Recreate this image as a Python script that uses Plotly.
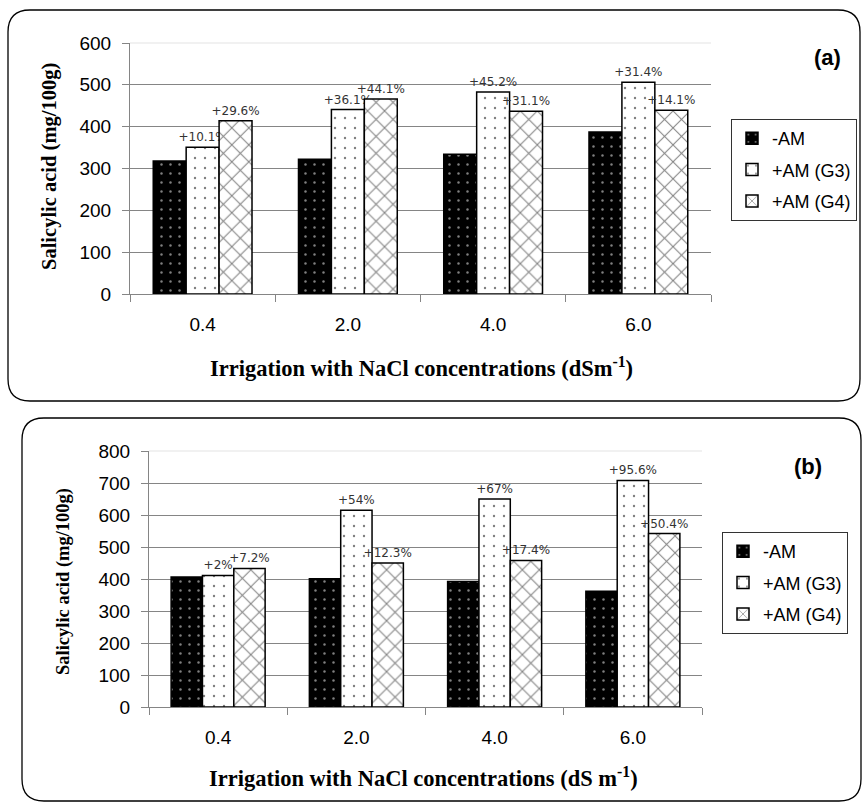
import plotly.graph_objects as go

# ---------------- data ----------------
categories = ["0.4", "2.0", "4.0", "6.0"]
series_names = ["-AM", "+AM (G3)", "+AM (G4)"]

a_minus_am = [318, 322, 334, 387]
a_g3 = [351, 441, 483, 506]
a_g4 = [414, 466, 437, 439]
a_g3_labels = ["+10.1%", "+36.1%", "+45.2%", "+31.4%"]
a_g4_labels = ["+29.6%", "+44.1%", "+31.1%", "+14.1%"]

b_minus_am = [406, 401, 392, 362]
b_g3 = [411, 615, 650, 708]
b_g4 = [433, 450, 458, 542]
b_g3_labels = ["+2%", "+54%", "+67%", "+95.6%"]
b_g4_labels = ["+7.2%", "+12.3%", "+17.4%", "+50.4%"]

y_ticks_a = [0, 100, 200, 300, 400, 500, 600]
y_ticks_b = [0, 100, 200, 300, 400, 500, 600, 700, 800]

y_title = "Salicylic acid (mg/100g)"
x_title_a = "Irrigation with NaCl concentrations (dSm<sup>-1</sup>)"
x_title_b = "Irrigation with NaCl concentrations (dS m<sup>-1</sup>)"
panel_labels = ["(a)", "(b)"]

# ---------------- styling helpers ----------------
W, H = 863, 803
SANS = "Liberation Sans, Arial, sans-serif"
SERIF = "Liberation Serif, Times New Roman, serif"
PCT = "DejaVu Sans, Verdana, sans-serif"
GRID = "#858585"


def px(x):
    return x / W


def py(y):
    return 1 - y / H


styles = [
    dict(color="black", pattern=dict(shape=".", fgcolor="white", bgcolor="black",
                                     size=9, solidity=0.06)),
    dict(color="white", pattern=dict(shape=".", fgcolor="black", bgcolor="white",
                                     size=10, solidity=0.045)),
    dict(color="white", pattern=dict(shape="x", fgcolor="black", bgcolor="white",
                                     size=12, solidity=0.16)),
]

fig = go.Figure()


def add_panel(values, labels, xa, ya, legend):
    for i, (name, vals, lab) in enumerate(zip(series_names, values, labels)):
        st = styles[i]
        kw = {}
        if lab is not None:
            kw = dict(text=lab, textposition="outside", constraintext="none",
                      textfont=dict(family=PCT, size=12, color="#333333"))
        fig.add_trace(go.Bar(
            x=categories, y=vals, name=name,
            xaxis=xa, yaxis=ya, legend=legend, legendgroup=f"{legend}{i}",
            marker=dict(color=st["color"], pattern=st["pattern"],
                        line=dict(color="black", width=1.5)),
            cliponaxis=False, hoverinfo="x+y+name", **kw,
        ))


add_panel([a_minus_am, a_g3, a_g4], [None, a_g3_labels, a_g4_labels], "x", "y", "legend")
add_panel([b_minus_am, b_g3, b_g4], [None, b_g3_labels, b_g4_labels], "x2", "y2", "legend2")


def xaxis_style(domain, anchor):
    return dict(domain=domain, anchor=anchor, type="category",
                showline=True, linecolor=GRID, linewidth=1.2,
                ticks="outside", tickson="boundaries", ticklen=7, tickcolor=GRID,
                tickwidth=1.2, ticklabelstandoff=13,
                tickfont=dict(family=SANS, size=19, color="black"),
                showgrid=False, automargin=False, fixedrange=True)


def yaxis_style(domain, anchor, ticks):
    return dict(domain=domain, anchor=anchor, range=[0, ticks[-1]],
                tickvals=ticks, showline=True, linecolor=GRID, linewidth=1.2,
                ticks="outside", ticklen=7, tickcolor=GRID, tickwidth=1.2,
                ticklabelstandoff=7,
                tickfont=dict(family=SANS, size=19, color="black"),
                showgrid=True, gridcolor=GRID, gridwidth=1,
                zeroline=False, automargin=False, fixedrange=True)


legend_common = dict(font=dict(family=SANS, size=18, color="black"),
                     bordercolor="#333333", borderwidth=1, bgcolor="white",
                     xanchor="left", yanchor="top", traceorder="grouped",
                     tracegroupgap=5, itemwidth=30)


def rrect(x0, y0, x1, y1, r):
    pts = [
        ("M", (x0 + r, y0)), ("L", (x1 - r, y0)), ("Q", (x1, y0), (x1, y0 + r)),
        ("L", (x1, y1 - r)), ("Q", (x1, y1), (x1 - r, y1)),
        ("L", (x0 + r, y1)), ("Q", (x0, y1), (x0, y1 - r)),
        ("L", (x0, y0 + r)), ("Q", (x0, y0), (x0 + r, y0)),
    ]
    s = ""
    for cmd, *ps in pts:
        s += cmd + " " + " ".join(f"{px(a):.5f},{py(b):.5f}" for a, b in ps) + " "
    return s + "Z"


shapes = [
    dict(type="path", xref="paper", yref="paper", path=rrect(8, 10, 860, 401, 22),
         line=dict(color="black", width=1.3), layer="below"),
    dict(type="path", xref="paper", yref="paper", path=rrect(22, 418, 861, 801, 22),
         line=dict(color="black", width=1.3), layer="below"),
    # lighter top gridline
    dict(type="line", xref="x domain", yref="y domain", x0=0, x1=1, y0=1, y1=1,
         line=dict(color="#e4e4e4", width=1.2), layer="above"),
    dict(type="line", xref="x2 domain", yref="y2 domain", x0=0, x1=1, y0=1, y1=1,
         line=dict(color="#e4e4e4", width=1.2), layer="above"),
]

annotations = [
    dict(text=f"<b>{y_title}</b>", xref="paper", yref="paper", x=px(50), y=py(167),
         textangle=-90, showarrow=False, font=dict(family=SERIF, size=20.5, color="black"),
         xanchor="center", yanchor="middle"),
    dict(text=f"<b>{y_title}</b>", xref="paper", yref="paper", x=px(63), y=py(582),
         textangle=-90, showarrow=False, font=dict(family=SERIF, size=18.5, color="black"),
         xanchor="center", yanchor="middle"),
    dict(text=f"<b>{x_title_a}</b>", xref="paper", yref="paper", x=px(421), y=py(367),
         showarrow=False, font=dict(family=SERIF, size=22.5, color="black"),
         xanchor="center", yanchor="middle"),
    dict(text=f"<b>{x_title_b}</b>", xref="paper", yref="paper", x=px(423), y=py(777),
         showarrow=False, font=dict(family=SERIF, size=22.5, color="black"),
         xanchor="center", yanchor="middle"),
    dict(text=f"<b>{panel_labels[0]}</b>", xref="paper", yref="paper", x=px(827), y=py(57),
         showarrow=False, font=dict(family=SANS, size=22, color="black"),
         xanchor="center", yanchor="middle"),
    dict(text=f"<b>{panel_labels[1]}</b>", xref="paper", yref="paper", x=px(808), y=py(466),
         showarrow=False, font=dict(family=SANS, size=22, color="black"),
         xanchor="center", yanchor="middle"),
]

fig.update_layout(
    width=W, height=H, autosize=False,
    margin=dict(l=0, r=0, t=0, b=0, pad=0),
    paper_bgcolor="white", plot_bgcolor="white",
    barmode="group", bargap=0.32, bargroupgap=0,
    xaxis=xaxis_style([px(130), px(711)], "y"),
    yaxis=yaxis_style([py(294), py(43)], "x", y_ticks_a),
    xaxis2=xaxis_style([px(149), px(702)], "y2"),
    yaxis2=yaxis_style([py(707), py(451)], "x2", y_ticks_b),
    legend=dict(x=px(731), y=py(119), **legend_common),
    legend2=dict(x=px(722), y=py(532), **legend_common),
    shapes=shapes, annotations=annotations,
    showlegend=True,
)

fig.write_html(
    "out.html",
    config={"displayModeBar": False},
    post_script="document.body.style.margin='0px';document.body.style.overflow='hidden';",
)
